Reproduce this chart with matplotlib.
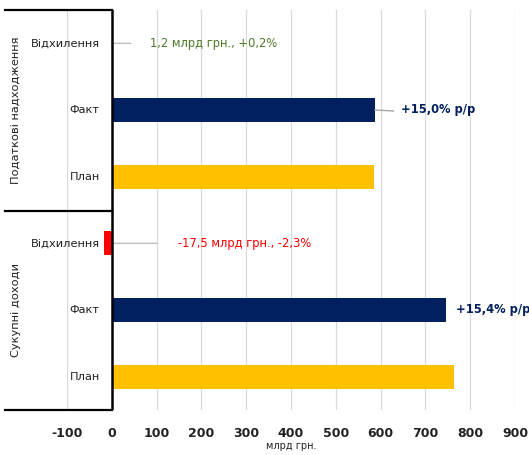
import matplotlib
matplotlib.use("Agg")
import matplotlib.pyplot as plt
from matplotlib.lines import Line2D

groups = ['Податкові надходження', 'Сукупні доходи']
cats = ['Відхилення', 'Факт', 'План']
tax_vals = [1.2, 586.7, 585.5]
total_vals = [-17.5, 745.5, 763.0]
dev_labels = ['1,2 млрд грн., +0,2%', '-17,5 млрд грн., -2,3%']
yoy_labels = ['+15,0% p/p', '+15,4% p/p']
xticks = [-100, 0, 100, 200, 300, 400, 500, 600, 700, 800, 900]

NAVY = '#002060'
GOLD = '#FFC000'
RED = '#FF0000'
GREEN = '#4F7A28'
GRID = '#D9D9D9'

fig = plt.figure(figsize=(5.29, 4.55), dpi=100)
W, H = 529, 455
ax = fig.add_axes([67 / W, 45 / H, 448 / W, 400 / H])

values = tax_vals + total_vals
bar_colors = [RED, NAVY, GOLD] * 2
ypos = list(range(len(values)))
ax.barh(ypos, values, height=0.36, color=bar_colors, zorder=3)

ax.set_xlim(-100, 900)
ax.set_ylim(len(values) - 0.5, -0.5)
ax.set_xticks(xticks)
ax.set_xticklabels([str(t) for t in xticks], fontsize=9, fontweight='bold', color='#222222')
ax.tick_params(axis='x', length=0, pad=12)
ax.set_yticks([])
ax.grid(axis='x', color=GRID, lw=0.9, zorder=0)
for s in ax.spines.values():
    s.set_visible(False)
ax.axvline(0, color='black', lw=1.8, zorder=4)
ax.set_xlabel('млрд грн.', fontsize=7, labelpad=1, color='#222222')

# category labels next to the zero axis
for i, v in enumerate(values):
    ax.annotate(cats[i % 3], xy=(0, i), xytext=(-12, 0), textcoords='offset pixels',
                ha='right', va='center', fontsize=8.2, color='#222222', annotation_clip=False)

# deviation labels with leader lines
dev_idx = [0, 3]
dev_line = [19, 45]
dev_text = [38, 66]
dev_cols = [GREEN, RED]
for k, i in enumerate(dev_idx):
    ax.annotate('', xy=(0, i), xytext=(dev_line[k], 0), textcoords='offset pixels',
                arrowprops=dict(arrowstyle='-', color='#BFBFBF', lw=1, shrinkA=0, shrinkB=0))
    ax.annotate(dev_labels[k], xy=(0, i), xytext=(dev_text[k], 0), textcoords='offset pixels',
                ha='left', va='center', fontsize=8.3, color=dev_cols[k])

# y/y growth labels
yoy_idx = [1, 4]
yoy_line = [19, 0]
yoy_text = [26, 10]
for k, i in enumerate(yoy_idx):
    if yoy_line[k]:
        ax.annotate('', xy=(values[i], i), xytext=(yoy_line[k], -1), textcoords='offset pixels',
                    arrowprops=dict(arrowstyle='-', color='#A6A6A6', lw=1, shrinkA=0, shrinkB=0))
    ax.annotate(yoy_labels[k], xy=(values[i], i), xytext=(yoy_text[k], 0), textcoords='offset pixels',
                ha='left', va='center', fontsize=8.3, fontweight='bold', color=NAVY,
                annotation_clip=False)

# group brackets on the left
for yp in [10, 211, 410]:
    fig.add_artist(Line2D([5 / W, 112 / W], [1 - yp / H, 1 - yp / H], color='black', lw=1.6))
fig.text(16 / W, 1 - 110 / H, groups[0], rotation=90, ha='center', va='center', fontsize=8.2, color='#222222')
fig.text(16 / W, 1 - 310 / H, groups[1], rotation=90, ha='center', va='center', fontsize=8.2, color='#222222')

fig.savefig('out.png', dpi=100)
